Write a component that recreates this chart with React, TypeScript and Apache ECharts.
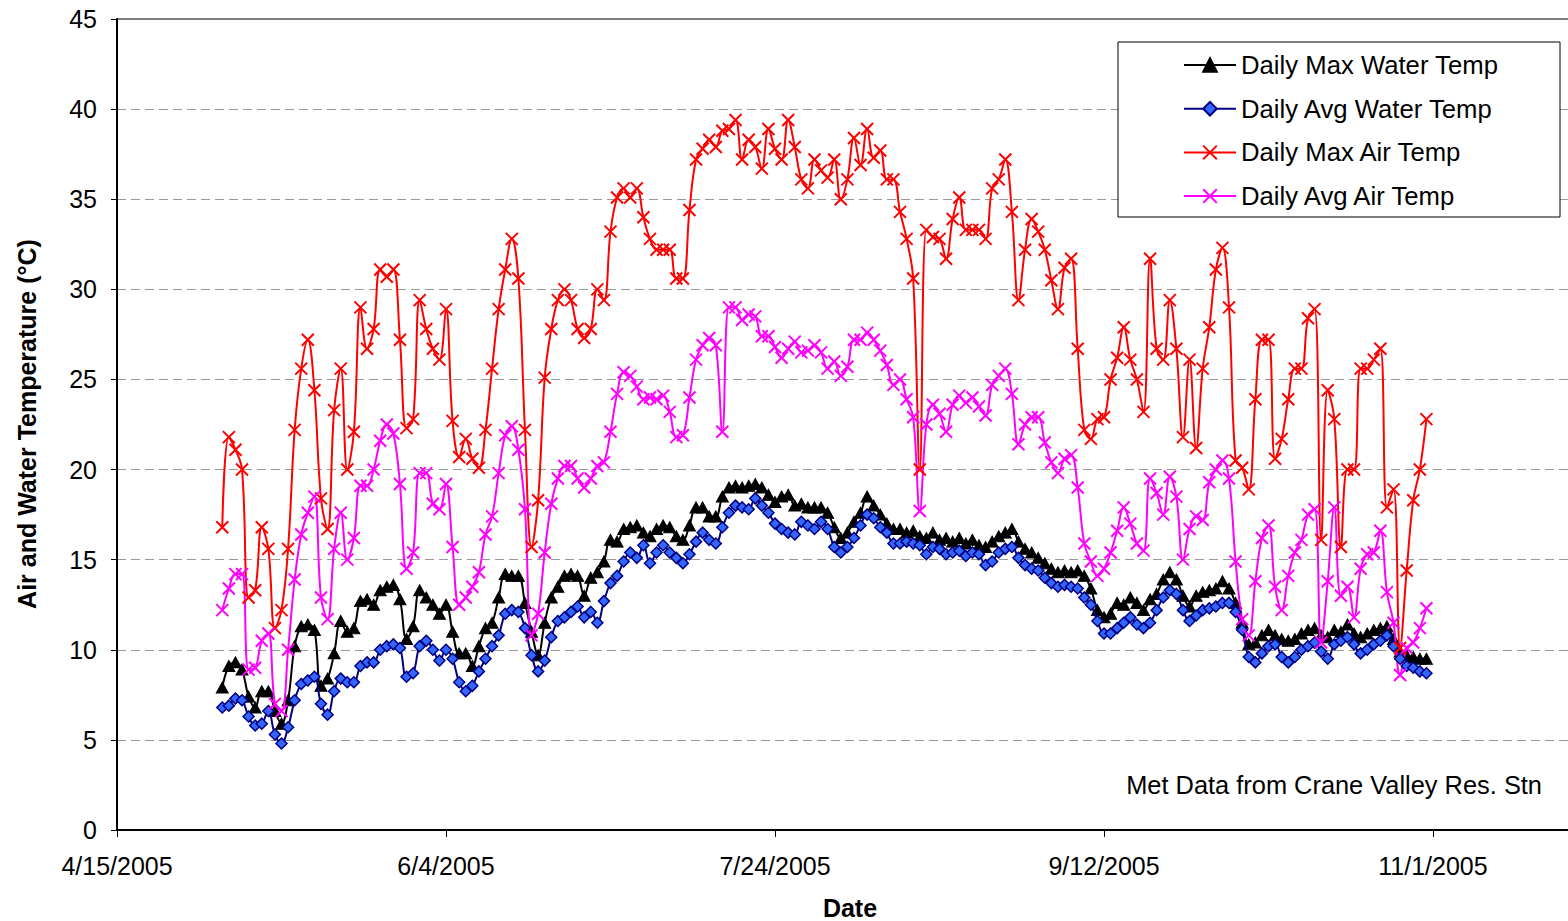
import { useEffect, useRef } from "react";
import * as echarts from "echarts";

// Days are counted from the x-axis origin, 4/15/2005. First reading: 5/1/2005.
const AXIS_ORIGIN_UTC = Date.UTC(2005, 3, 15);
const FIRST_DAY = 16;
const X_TICK_STEP = 50;

const seriesNames = [
  "Daily Max Water Temp",
  "Daily Avg Water Temp",
  "Daily Max Air Temp",
  "Daily Avg Air Temp",
];

const maxWater = [
  7.9, 9.1, 9.3, 8.9, 7.4, 6.8, 7.7, 7.7, 6.6, 5.9,
  7.2, 10.2, 11.3, 11.4, 11.1, 8.0, 8.4, 9.8, 11.6, 11.0,
  11.2, 12.7, 12.8, 12.5, 13.3, 13.5, 13.6, 12.8, 10.6, 11.3,
  13.3, 12.9, 12.5, 12.0, 12.5, 11.0, 9.8, 9.8, 9.1, 10.2,
  11.2, 11.5, 12.9, 14.2, 14.1, 14.1, 12.6, 11.0, 9.7, 11.5,
  12.9, 13.5, 14.1, 14.2, 14.1, 13.0, 14.0, 14.3, 14.9, 16.1,
  16.0, 16.7, 16.8, 16.9, 16.5, 16.3, 16.7, 16.9, 16.8, 16.3,
  16.1, 16.9, 17.9, 17.9, 17.4, 17.4, 18.5, 19.0, 19.1, 19.0,
  19.1, 19.2, 19.0, 18.6, 18.2, 18.5, 18.6, 18.0, 18.1, 17.9,
  17.9, 17.9, 17.6, 16.8, 16.2, 16.5, 17.1, 17.6, 18.5, 18.0,
  17.5, 17.0, 16.7, 16.7, 16.5, 16.6, 16.3, 16.2, 16.5, 16.1,
  16.2, 16.0, 16.2, 15.9, 16.1, 15.8, 15.7, 16.0, 16.3, 16.5,
  16.7, 16.0, 15.6, 15.4, 15.1, 14.8, 14.5, 14.3, 14.4, 14.3,
  14.4, 14.1, 13.4, 12.2, 11.8, 12.0, 12.6, 12.5, 12.9, 12.6,
  12.2, 12.8, 13.1, 13.9, 14.3, 13.9, 13.0, 12.4, 13.0, 13.2,
  13.3, 13.4, 13.8, 13.4, 12.6, 11.5, 10.3, 10.4, 10.8, 11.1,
  10.8, 10.6, 10.5, 10.6, 10.9, 11.1, 11.2, 10.8, 10.7, 11.1,
  11.0, 11.4, 10.9, 10.7, 10.9, 11.1, 11.2, 11.3, 10.6, 9.9,
  9.7, 9.6, 9.5, 9.5,
];

const avgWater = [
  6.8, 6.9, 7.3, 7.2, 6.3, 5.8, 5.9, 6.6, 5.3, 4.8,
  5.7, 7.2, 8.1, 8.3, 8.5, 7.0, 6.4, 7.7, 8.4, 8.2,
  8.2, 9.1, 9.3, 9.3, 10.0, 10.2, 10.3, 10.1, 8.5, 8.7,
  10.2, 10.5, 10.0, 9.4, 10.0, 9.5, 8.2, 7.7, 8.0, 8.8,
  9.5, 10.2, 10.8, 12.0, 12.2, 12.1, 11.2, 9.7, 8.8, 9.4,
  10.7, 11.6, 11.8, 12.1, 12.4, 11.8, 12.1, 11.5, 12.7, 13.7,
  14.1, 14.9, 15.4, 15.1, 15.8, 14.8, 15.4, 15.8, 15.4, 15.1,
  14.8, 15.3, 16.0, 16.5, 16.1, 15.9, 16.8, 17.6, 18.0, 17.9,
  17.8, 18.4, 18.0, 17.6, 17.0, 16.7, 16.5, 16.4, 17.1, 16.9,
  16.7, 17.1, 16.7, 15.7, 15.4, 15.7, 16.2, 16.9, 17.5, 17.3,
  16.8, 16.5, 15.9, 15.9, 16.0, 15.9, 15.8, 15.3, 15.7, 15.6,
  15.3, 15.4, 15.5, 15.2, 15.4, 15.3, 14.7, 14.9, 15.4, 15.6,
  15.7, 15.1, 14.7, 14.5, 14.4, 14.0, 13.7, 13.5, 13.6, 13.5,
  13.4, 12.9, 12.5, 11.6, 10.9, 10.9, 11.2, 11.5, 11.8, 11.4,
  11.2, 11.5, 12.2, 12.9, 13.3, 13.1, 12.2, 11.6, 11.9, 12.2,
  12.3, 12.4, 12.6, 12.6, 12.1, 11.1, 9.6, 9.3, 9.8, 10.2,
  10.3, 9.6, 9.3, 9.6, 10.0, 10.2, 10.4, 9.9, 9.5, 10.3,
  10.5, 10.7, 10.3, 9.8, 10.0, 10.3, 10.5, 10.8, 10.2, 9.5,
  9.1, 9.0, 8.8, 8.7,
];

const maxAir = [
  16.8, 21.8, 21.1, 20.0, 12.9, 13.3, 16.8, 15.6, 11.2, 12.2,
  15.6, 22.2, 25.6, 27.2, 24.4, 18.4, 16.7, 23.3, 25.6, 20.0,
  22.1, 29.0, 26.7, 27.8, 31.1, 30.7, 31.1, 27.2, 22.3, 22.8,
  29.4, 27.8, 26.7, 26.1, 28.9, 22.7, 20.7, 21.7, 20.6, 20.1,
  22.2, 25.6, 28.9, 31.1, 32.8, 30.6, 22.2, 15.7, 18.3, 25.1,
  27.8, 29.4, 30.0, 29.4, 27.8, 27.3, 27.8, 30.0, 29.4, 33.2,
  35.1, 35.6, 35.1, 35.6, 34.0, 32.8, 32.2, 32.2, 32.2, 30.6,
  30.6, 34.4, 37.2, 37.8, 38.3, 37.9, 38.8, 38.9, 39.4, 37.2,
  38.3, 37.9, 36.7, 38.9, 37.8, 37.2, 39.4, 37.9, 36.1, 35.6,
  37.2, 36.6, 36.2, 37.2, 35.0, 36.1, 38.4, 36.9, 38.9, 37.3,
  37.7, 36.1, 36.1, 34.3, 32.8, 30.6, 20.0, 33.3, 32.9, 32.8,
  31.7, 33.9, 35.1, 33.3, 33.3, 33.3, 32.8, 35.6, 36.1, 37.2,
  34.3, 29.4, 32.2, 33.9, 33.2, 32.2, 30.5, 28.9, 31.2, 31.7,
  26.7, 22.2, 21.7, 22.8, 22.9, 25.0, 26.2, 27.9, 26.1, 25.0,
  23.2, 31.7, 26.7, 26.1, 29.4, 26.7, 21.8, 26.1, 21.2, 25.6,
  27.9, 31.1, 32.3, 29.0, 20.5, 20.1, 18.9, 23.9, 27.2, 27.2,
  20.6, 21.7, 23.9, 25.6, 25.6, 28.4, 28.9, 16.1, 24.4, 22.8,
  15.7, 20.0, 20.0, 25.6, 25.6, 26.1, 26.7, 17.9, 18.9, 10.1,
  14.4, 18.3, 20.0, 22.8,
];

const avgAir = [
  12.2, 13.4, 14.2, 14.2, 8.9, 9.0, 10.5, 10.9, 7.0, 6.6,
  10.0, 13.9, 16.4, 17.6, 18.5, 12.9, 11.7, 15.6, 17.6, 15.0,
  16.2, 19.1, 19.1, 20.0, 21.6, 22.5, 22.0, 19.2, 14.5, 15.4,
  19.8, 19.8, 18.1, 17.8, 19.2, 15.7, 12.5, 12.9, 13.5, 14.3,
  16.4, 17.4, 19.8, 21.9, 22.4, 21.1, 17.8, 10.8, 12.0, 15.4,
  18.1, 19.5, 20.2, 20.2, 19.5, 19.0, 19.5, 20.2, 20.4, 22.1,
  24.2, 25.4, 25.2, 24.6, 23.9, 24.0, 23.9, 24.1, 23.2, 21.8,
  21.9, 24.0, 26.1, 26.9, 27.3, 26.9, 22.1, 29.0, 29.0, 28.3,
  28.6, 28.5, 27.4, 27.4, 26.8, 26.2, 26.7, 27.1, 26.5, 26.6,
  26.9, 26.5, 25.6, 26.0, 25.2, 25.7, 27.2, 27.2, 27.6, 27.2,
  26.6, 25.8, 24.7, 25.0, 23.9, 22.9, 17.7, 22.5, 23.6, 23.1,
  22.1, 23.6, 24.1, 23.7, 24.0, 23.5, 23.0, 24.7, 25.2, 25.6,
  24.2, 21.4, 22.5, 22.9, 22.9, 21.5, 20.4, 19.8, 20.6, 20.8,
  19.0, 15.9, 14.9, 14.1, 14.5, 15.4, 16.6, 17.9, 17.0, 15.9,
  15.5, 19.5, 18.7, 17.5, 19.6, 18.5, 15.0, 16.7, 17.4, 17.2,
  19.3, 20.0, 20.5, 19.5, 14.9, 11.7, 10.8, 13.8, 16.2, 16.9,
  13.5, 12.2, 14.1, 15.4, 16.1, 17.5, 17.8, 10.4, 13.8, 17.9,
  13.0, 13.5, 11.8, 14.5, 15.3, 15.4, 16.6, 13.2, 11.5, 8.6,
  10.1, 10.4, 11.2, 12.3,
];

const FONT = "'Liberation Sans', Arial, Helvetica, sans-serif";
const X_MARK = "path://M0,0L20,20M20,0L0,20";

function toPoints(values: number[]) {
  return values.map((v, i) => [FIRST_DAY + i, v]);
}

function fmtDate(day: number) {
  const t = new Date(AXIS_ORIGIN_UTC + day * 86400000);
  return `${t.getUTCMonth() + 1}/${t.getUTCDate()}/${t.getUTCFullYear()}`;
}

export default function App() {
  const ref = useRef<HTMLDivElement>(null);

  useEffect(() => {
    if (!ref.current) return;
    const chart = echarts.init(ref.current, null, { renderer: "svg" });

    const gridLeft = 117;
    const gridRight = -2;
    const pxPerDay = 329 / 50;
    const xMax = (1568 - gridLeft - gridRight) / pxPerDay;

    const common = {
      type: "line",
      smooth: 0.4,
      showAllSymbol: true,
      emphasis: { disabled: true },
      animation: false,
    };

    chart.setOption({
      animation: false,
      backgroundColor: "#ffffff",
      textStyle: { fontFamily: FONT },
      grid: {
        left: gridLeft,
        right: gridRight,
        top: 19,
        bottom: 91,
        containLabel: false,
        outerBoundsMode: "none",
        show: true,
        borderColor: "#000",
        borderWidth: 1,
        backgroundColor: "transparent",
      },
      xAxis: {
        type: "value",
        min: 0,
        max: xMax,
        interval: X_TICK_STEP,
        splitLine: { show: false },
        axisLine: { show: true, lineStyle: { color: "#000", width: 2 } },
        axisTick: { show: true, inside: false, length: 7, lineStyle: { color: "#000", width: 1 } },
        axisLabel: {
          show: true,
          margin: 23,
          fontSize: 25,
          color: "#000",
          fontFamily: FONT,
          showMaxLabel: false,
          formatter: (v: number) => (v % X_TICK_STEP === 0 ? fmtDate(v) : ""),
        },
      },
      yAxis: {
        type: "value",
        min: 0,
        max: 45,
        interval: 5,
        axisLine: { show: true, lineStyle: { color: "#000", width: 2 } },
        axisTick: { show: true, inside: false, length: 6, lineStyle: { color: "#000", width: 1 } },
        axisLabel: { margin: 20, fontSize: 25, color: "#000", fontFamily: FONT },
        splitLine: {
          show: true,
          showMinLine: false,
          showMaxLine: false,
          lineStyle: { color: "#999", width: 1, type: [9, 5] },
        },
      },
      legend: {
        show: true,
        orient: "vertical",
        left: 1183,
        top: 52,
        itemWidth: 52,
        itemHeight: 17,
        itemGap: 17.7,
        padding: 0,
        z: 10,
        data: seriesNames,
        textStyle: { fontSize: 25.7, color: "#000", fontFamily: FONT, lineHeight: 26 },
      },
      graphic: [
        {
          type: "rect",
          z: 5,
          shape: { x: 1118, y: 42, width: 442, height: 175 },
          style: { fill: "#fff", stroke: "#000", lineWidth: 1 },
        },
        {
          type: "text",
          z: 6,
          x: 1542,
          y: 785,
          style: {
            text: "Met Data from Crane Valley Res. Stn",
            fontSize: 25.4,
            fontFamily: FONT,
            fill: "#000",
            textAlign: "right",
            textVerticalAlign: "middle",
          },
        },
        {
          type: "text",
          z: 6,
          x: 850,
          y: 908,
          style: {
            text: "Date",
            fontSize: 25,
            fontWeight: "bold",
            fontFamily: FONT,
            fill: "#000",
            textAlign: "center",
            textVerticalAlign: "middle",
          },
        },
        {
          type: "text",
          z: 6,
          x: 27,
          y: 424,
          rotation: Math.PI / 2,
          style: {
            text: "Air and Water Temperature (°C)",
            fontSize: 25,
            fontWeight: "bold",
            fontFamily: FONT,
            fill: "#000",
            textAlign: "center",
            textVerticalAlign: "middle",
          },
        },
      ],
      series: [
        {
          ...common,
          name: seriesNames[0],
          data: toPoints(maxWater),
          symbol: "triangle",
          symbolSize: [12, 11],
          lineStyle: { color: "#000000", width: 2 },
          itemStyle: { color: "#000000", borderColor: "#000000", borderWidth: 1 },
          z: 2,
        },
        {
          ...common,
          name: seriesNames[1],
          data: toPoints(avgWater),
          symbol: "diamond",
          symbolSize: [11, 11],
          lineStyle: { color: "#000080", width: 2 },
          itemStyle: { color: "#3366FF", borderColor: "#000080", borderWidth: 1.5 },
          z: 3,
        },
        {
          ...common,
          name: seriesNames[2],
          data: toPoints(maxAir),
          symbol: X_MARK,
          symbolSize: 12,
          lineStyle: { color: "#FF0000", width: 2 },
          itemStyle: { color: "#FF0000", borderColor: "#FF0000", borderWidth: 2 },
          z: 3,
        },
        {
          ...common,
          name: seriesNames[3],
          data: toPoints(avgAir),
          symbol: X_MARK,
          symbolSize: 12,
          lineStyle: { color: "#FF00FF", width: 2 },
          itemStyle: { color: "#FF00FF", borderColor: "#FF00FF", borderWidth: 2 },
          z: 3,
        },
      ],
    });

    return () => chart.dispose();
  }, []);

  return (
    <div
      ref={ref}
      style={{ position: "absolute", left: 0, top: 0, width: 1568, height: 921 }}
    />
  );
}
